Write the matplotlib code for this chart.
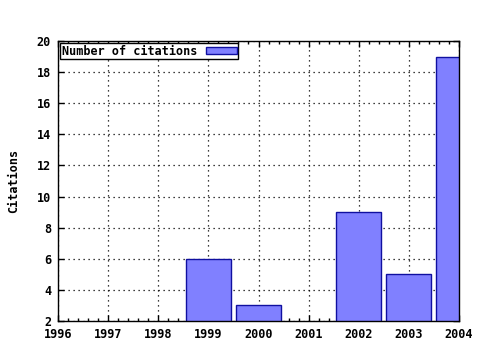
import matplotlib
matplotlib.use('Agg')
import matplotlib.pyplot as plt
from matplotlib.ticker import MultipleLocator

# 每年被引用次数
years = [1999, 2000, 2002, 2003, 2004]
citations = [6, 3, 9, 5, 19]
x_ticks = list(range(1996, 2005))
y_ticks = list(range(2, 21, 2))

plt.rcParams['font.family'] = ['DejaVu Sans Mono']
plt.rcParams['font.weight'] = 'bold'
plt.rcParams['axes.labelweight'] = 'bold'
plt.rcParams['font.size'] = 8.5

fig = plt.figure(figsize=[4.8, 3.5], dpi=100)
ax = fig.add_axes([58 / 480, 1 - 321 / 350, (459 - 58) / 480, (321 - 41) / 350])

ax.bar(years, citations, width=0.9, bottom=0, color='#8080ff', edgecolor='#1010a0',
       linewidth=1, label='Number of citations', zorder=2)

ax.set_xlim(1996, 2004)
ax.set_ylim(2, 20)
ax.set_xticks(x_ticks)
ax.set_yticks(y_ticks)
ax.xaxis.set_minor_locator(MultipleLocator(0.2))
ax.tick_params(which='both', direction='in', top=True, right=True, width=1)
ax.tick_params(which='major', length=4, pad=5)
ax.tick_params(which='minor', length=2)
ax.grid(True, which='major', color='black', linestyle=(0, (1, 3)), linewidth=0.9, zorder=1)
for s in ax.spines.values():
    s.set_linewidth(1)
ax.set_ylabel('Citations', labelpad=12)

leg = ax.legend(loc='upper left', markerfirst=False, fancybox=False, framealpha=1,
                edgecolor='black', borderpad=0.1, handlelength=2.6, handleheight=0.5,
                borderaxespad=0.2)
leg.get_frame().set_linewidth(1)

fig.savefig('out.png', dpi=100)
